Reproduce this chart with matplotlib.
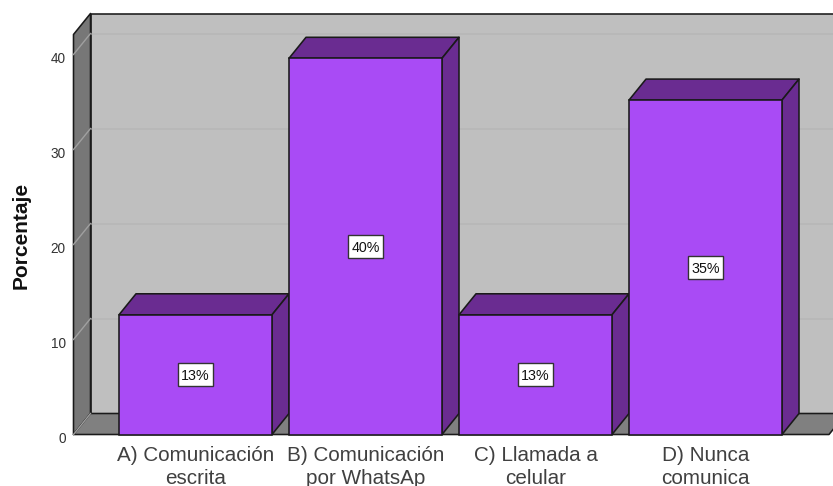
import matplotlib
matplotlib.use("Agg")
import matplotlib.pyplot as plt
from matplotlib.patches import Polygon, Rectangle
from matplotlib.transforms import ScaledTranslation

categories = ["A) Comunicación\nescrita", "B) Comunicación\npor WhatsAp", "C) Llamada a\ncelular", "D) Nunca\ncomunica"]
values = [12.6, 39.6, 12.6, 35.2]
labels = ["13%", "40%", "13%", "35%"]
yticks = [0, 10, 20, 30, 40]

W, H = 833, 486
plt.rcParams['font.family'] = ['Liberation Sans', 'DejaVu Sans']
fig = plt.figure(figsize=(W/100, H/100), dpi=100, facecolor='white')
L, R, B, T = 73.5, 829, 434.5, 34.5
ax = fig.add_axes([L/W, 1-B/H, (R-L)/W, (B-T)/H])
ax.patch.set_visible(False)
for s in ax.spines.values():
    s.set_visible(False)

step = 170.0
x0 = (195.5-L)/step
ax.set_xlim(-x0, (R-L)/step-x0)
yunit = 9.5
ax.set_ylim(0, (B-T)/yunit)
xl, xr = ax.get_xlim()
ytop = ax.get_ylim()[1]
dx, dy = 17/step, 21/yunit
w = 153/step

FRONT, SHADE = '#a94bf5', '#6a2c91'
EDGE = '#1a1a1a'
LW = 1.15
def poly(pts, fc, ec=EDGE, lw=LW, z=1):
    ax.add_patch(Polygon(pts, closed=True, fc=fc, ec=ec, lw=lw, zorder=z, clip_on=False, joinstyle='round'))

# chart frame
poly([(xl+dx, dy), (xr+dx, dy), (xr+dx, ytop+dy), (xl+dx, ytop+dy)], '#bfbfbf', z=1)
poly([(xl, 0), (xl+dx, dy), (xl+dx, ytop+dy), (xl, ytop)], '#777777', z=1.1)
poly([(xl, 0), (xr, 0), (xr+dx, dy), (xl+dx, dy)], '#808080', z=1.1)

for t in yticks[1:]:
    ax.plot([xl+dx, xr+dx], [t+dy, t+dy], color='#b6b6b6', lw=1.1, zorder=1.05, clip_on=False)
    ax.plot([xl, xl+dx], [t, t+dy], color='#a0a0a0', lw=1.0, zorder=1.15, clip_on=False)
ax.plot([xl, xl+dx], [0, dy], color='#a0a0a0', lw=1.0, zorder=1.15, clip_on=False)

# bars, from left to right so that later ones overlap
for i, (v, lab) in enumerate(zip(values, labels)):
    z = 2 + i*0.1
    x1, x2 = i-w/2, i+w/2
    poly([(x1, v), (x2, v), (x2+dx, v+dy), (x1+dx, v+dy)], SHADE, z=z)
    poly([(x2, 0), (x2+dx, dy), (x2+dx, v+dy), (x2, v)], SHADE, z=z)
    ax.bar(i, v, width=w, color=FRONT, edgecolor=EDGE, linewidth=LW, zorder=z+0.01, clip_on=False)
    bw, bh = 35/step, 23/yunit
    ax.add_patch(Rectangle((i-bw/2, v/2-bh/2), bw, bh, fc='white', ec='#333333', lw=1.0, zorder=5))
    ax.text(i, v/2, lab, ha='center', va='center_baseline', fontsize=10.3, color='#111111', zorder=6)

ax.set_xticks(range(len(categories)))
ax.set_xticklabels(categories, fontsize=14.9, color='#404040', linespacing=1.22)
ax.set_yticks(yticks)
ax.set_yticklabels([str(t) for t in yticks], fontsize=9.8, color='#333333')
ax.tick_params(axis='both', length=0)
ax.tick_params(axis='x', pad=8.5)
ax.tick_params(axis='y', pad=5.5)
shift = ScaledTranslation(0, -2.5/100, fig.dpi_scale_trans)
for t in ax.get_yticklabels():
    t.set_transform(t.get_transform() + shift)
fig.text(21/W, 1-235/H, "Porcentaje", rotation=90, ha='center', va='center',
         fontsize=15, fontweight='bold', color='#111111')

fig.savefig('out.png', dpi=100, facecolor='white')
